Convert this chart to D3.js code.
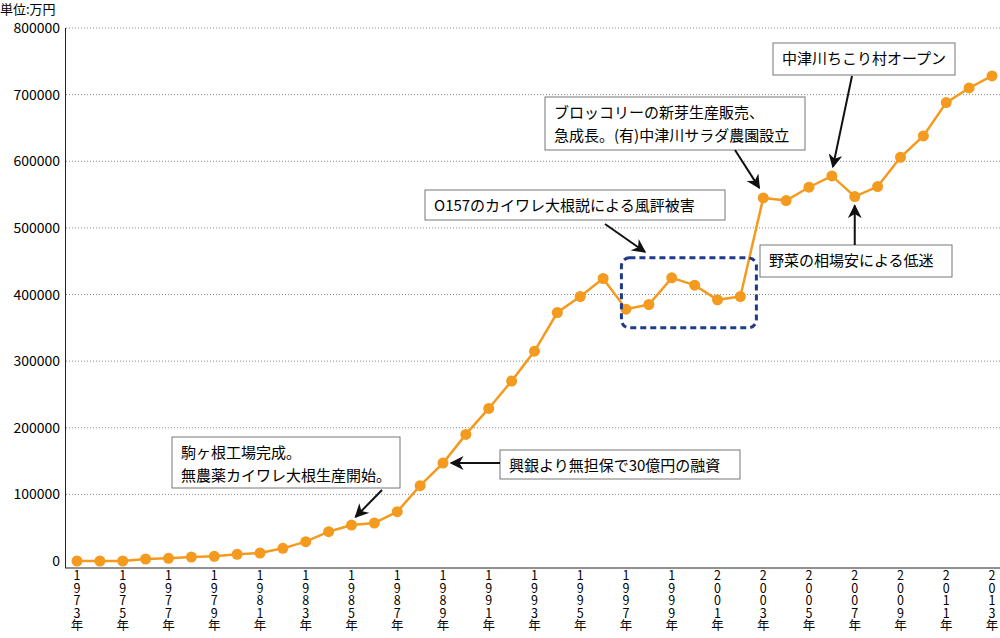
<!DOCTYPE html>
<html><head><meta charset="utf-8">
<script src="https://cdn.jsdelivr.net/npm/d3@7"></script>
<style>body{margin:0;background:#fff}text{font-family:"Noto Sans CJK JP","Noto Sans",sans-serif}</style>
</head><body><div id="chart"></div>
<script>
const years = d3.range(1973, 2014);
const sales = [0,0,0,3000,4000,6000,7000,10000,12000,19000,29000,44000,54000,57000,74000,113000,147000,190000,229000,270000,315000,373000,397000,424000,378000,385000,425000,414000,392000,397000,545000,541000,561000,578000,547000,562000,606000,638000,688000,710000,728000];
const yTicks = [0,100000,200000,300000,400000,500000,600000,700000,800000];

const w = 1000, h = 638;
const svg = d3.select("#chart").append("svg").attr("width", w).attr("height", h);
const x = d3.scaleLinear().domain([1973, 2013]).range([77, 992]);
const y = d3.scaleLinear().domain([0, 800000]).range([561, 28]);

svg.append("text").attr("x", 0).attr("y", 14).attr("font-size", 13).text("単位:万円");

// grid
svg.selectAll(".grid").data(yTicks.slice(1)).enter().append("line")
  .attr("x1", 66).attr("x2", 1000).attr("y1", d => y(d)).attr("y2", d => y(d))
  .attr("stroke", "#888").attr("stroke-dasharray", "1,2");
svg.selectAll(".ylab").data(yTicks).enter().append("text")
  .attr("x", 60).attr("y", d => y(d) + 5).attr("text-anchor", "end").attr("font-size", 14).text(d => d);
svg.append("line").attr("x1", 65.5).attr("x2", 65.5).attr("y1", 28).attr("y2", 568).attr("stroke", "#222");
svg.append("line").attr("x1", 65).attr("x2", 1000).attr("y1", 568).attr("y2", 568).attr("stroke", "#222");

// x labels (vertical)
const xl = svg.selectAll(".xlab").data(years.filter(d => (d - 1973) % 2 === 0)).enter().append("text")
  .attr("text-anchor", "middle").attr("font-size", 12.5);
xl.each(function(d) {
  const chars = (d + "年").split("");
  d3.select(this).selectAll("tspan").data(chars).enter().append("tspan")
    .attr("x", x(d)).attr("y", (c, i) => 580 + i * 12.6).text(c => c);
});

// line
svg.append("path").datum(sales).attr("fill", "none").attr("stroke", "#f39a1f").attr("stroke-width", 2.5)
  .attr("d", d3.line().x((d, i) => x(years[i])).y(d => y(d)));
svg.selectAll(".pt").data(sales).enter().append("circle")
  .attr("cx", (d, i) => x(years[i])).attr("cy", d => y(d)).attr("r", 5.5).attr("fill", "#f39a1f");

// dashed region
svg.append("rect").attr("x", x(1996.8)).attr("y", y(455000)).attr("width", x(2002.7) - x(1996.8))
  .attr("height", y(350000) - y(455000)).attr("rx", 8).attr("fill", "none")
  .attr("stroke", "#1f3b8a").attr("stroke-width", 3).attr("stroke-dasharray", "6,4");

// annotations
svg.append("defs").append("marker").attr("id", "ah").attr("viewBox", "0 0 10 10").attr("refX", 9).attr("refY", 5)
  .attr("markerWidth", 7).attr("markerHeight", 7).attr("orient", "auto")
  .append("path").attr("d", "M0,0L10,5L0,10L3,5z").attr("fill", "#111");
const notes = [
  {lines:["駒ヶ根工場完成。","無農薬カイワレ大根生産開始。"], bx:172, by:437, bw:228, bh:51, from:[382,490], to:[x(1985)+4, y(54000)-8]},
  {lines:["興銀より無担保で30億円の融資"], bx:500, by:450, bw:240, bh:29, from:[500,463], to:[x(1989)+8, y(147000)]},
  {lines:["O157のカイワレ大根説による風評被害"], bx:425, by:190, bw:300, bh:30, from:[605,224], to:[645,252]},
  {lines:["ブロッコリーの新芽生産販売、","急成長。(有)中津川サラダ農園設立"], bx:545, by:97, bw:260, bh:53, from:[735,150], to:[x(2003)-4, y(545000)-10]},
  {lines:["中津川ちこり村オープン"], bx:773, by:43, bw:182, bh:32, from:[852,76], to:[x(2006)+1, y(578000)-9]},
  {lines:["野菜の相場安による低迷"], bx:760, by:245, bw:192, bh:32, from:[x(2007), 245], to:[x(2007), y(547000)+9]}
];
notes.forEach(n => {
  svg.append("rect").attr("x", n.bx).attr("y", n.by).attr("width", n.bw).attr("height", n.bh)
    .attr("fill", "#fff").attr("stroke", "#777");
  n.lines.forEach((t, i) => svg.append("text").attr("x", n.bx + 9).attr("y", n.by + 21 + i * 23)
    .attr("font-size", 15).text(t));
  svg.append("line").attr("x1", n.from[0]).attr("y1", n.from[1]).attr("x2", n.to[0]).attr("y2", n.to[1])
    .attr("stroke", "#111").attr("stroke-width", 2).attr("marker-end", "url(#ah)");
});
</script></body></html>
